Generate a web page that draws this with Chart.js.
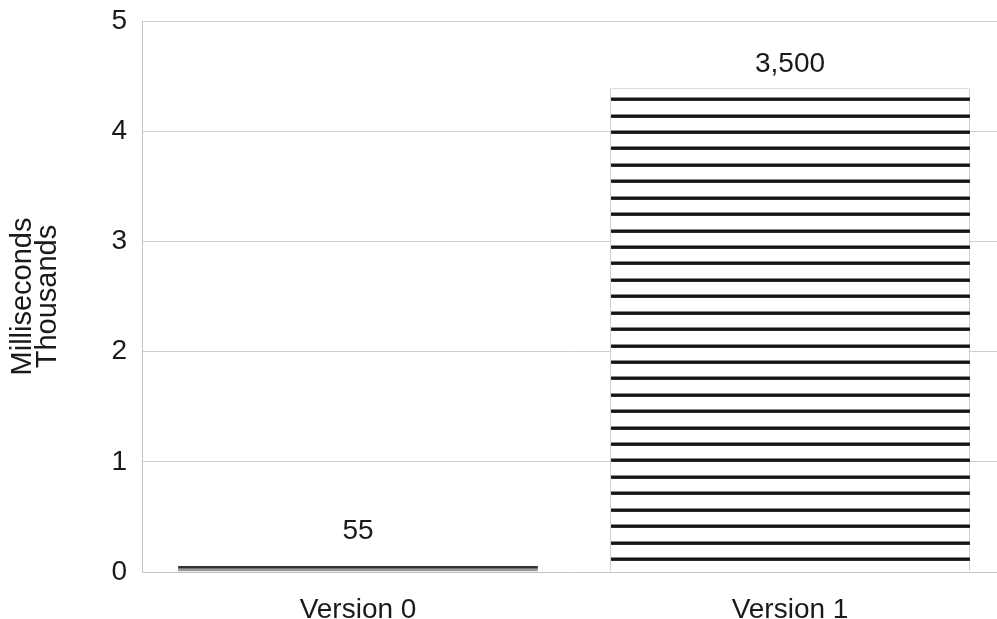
<!DOCTYPE html>
<html>
<head>
<meta charset="utf-8">
<script src="https://cdn.jsdelivr.net/npm/chart.js@4/dist/chart.umd.min.js"></script>
<style>
  html, body { margin: 0; padding: 0; background: #fff; overflow: hidden; }
  #wrap { width: 997px; height: 619px; overflow: hidden; }
</style>
</head>
<body>
<div id="wrap"><canvas id="myChart" width="1006" height="619"></canvas></div>
<script>
// datos (eje en miles)
const categorias = ["Version 0", "Version 1"]
const valores = [0.055, 4.39]
const etiquetas = ["55", "3,500"]
const ticksY = [0, 1, 2, 3, 4, 5]
const tituloY = ["Milliseconds", "Thousands"]

const fuente = "'Liberation Sans', Arial, Helvetica, sans-serif"
const colorTexto = "#1a1a1a"

// rayas horizontales dentro de las barras altas
const rayas = {
    id: "rayas",
    afterDatasetsDraw(chart) {
        const ctx = chart.ctx
        const meta = chart.getDatasetMeta(0)
        meta.data.forEach((bar) => {
            const alto = bar.base - bar.y
            if (alto < 20) return
            const izq = bar.x - bar.width / 2
            ctx.save()
            ctx.fillStyle = "#141414"
            for (let y = bar.y + 11; y < bar.base - 8; y += 16.42) {
                ctx.fillRect(izq + 1, Math.round(y) - 1.5, bar.width - 1, 3.4)
            }
            ctx.restore()
        })
    }
}

// etiquetas de valor sobre cada barra
const etiquetasBarras = {
    id: "etiquetasBarras",
    afterDatasetsDraw(chart) {
        const ctx = chart.ctx
        const meta = chart.getDatasetMeta(0)
        ctx.save()
        ctx.font = "28px " + fuente
        ctx.fillStyle = colorTexto
        ctx.textAlign = "center"
        ctx.textBaseline = "middle"
        meta.data.forEach((bar, i) => {
            const y = Math.min(bar.y - 24, bar.base - 40)
            ctx.fillText(etiquetas[i], bar.x, y)
        })
        ctx.restore()
    }
}

const config = {
    type: "bar",
    data: {
        labels: categorias,
        datasets: [{
            data: valores,
            backgroundColor: ["#9a9a9a", "#ffffff"],
            borderColor: ["#333333", "#c8c8c8"],
            borderWidth: [{ top: 3, left: 0, right: 0, bottom: 0 }, { top: 1, left: 1, right: 1, bottom: 0 }],
            borderSkipped: false,
            barPercentage: 0.833,
            categoryPercentage: 1
        }]
    },
    options: {
        responsive: false,
        animation: false,
        layout: { padding: { top: 21, left: 0, right: 0, bottom: 0 } },
        plugins: { legend: { display: false }, tooltip: { enabled: false } },
        scales: {
            x: {
                grid: { display: false },
                border: { display: true, color: "#c4c4c4" },
                ticks: { color: colorTexto, font: { family: fuente, size: 28 }, padding: 13 },
                afterFit(scale) {
                    scale.height = 47
                    scale.paddingLeft = 0
                    scale.paddingRight = 0
                }
            },
            y: {
                min: 0,
                max: 5,
                afterBuildTicks(scale) { scale.ticks = ticksY.map((v) => ({ value: v })) },
                grid: { color: "#cfcfcf", drawTicks: false },
                border: { display: true, color: "#c4c4c4" },
                ticks: { color: colorTexto, font: { family: fuente, size: 28 }, padding: 15 },
                title: {
                    display: true,
                    text: tituloY,
                    color: colorTexto,
                    font: { family: fuente, size: 29, lineHeight: 0.87 },
                    padding: { top: 10, bottom: 0 }
                },
                afterFit(scale) {
                    scale.width = 142
                    scale.paddingTop = 0
                    scale.paddingBottom = 0
                }
            }
        }
    },
    plugins: [rayas, etiquetasBarras]
}

const myChart = new Chart(document.querySelector("#myChart"), config)
</script>
</body>
</html>
